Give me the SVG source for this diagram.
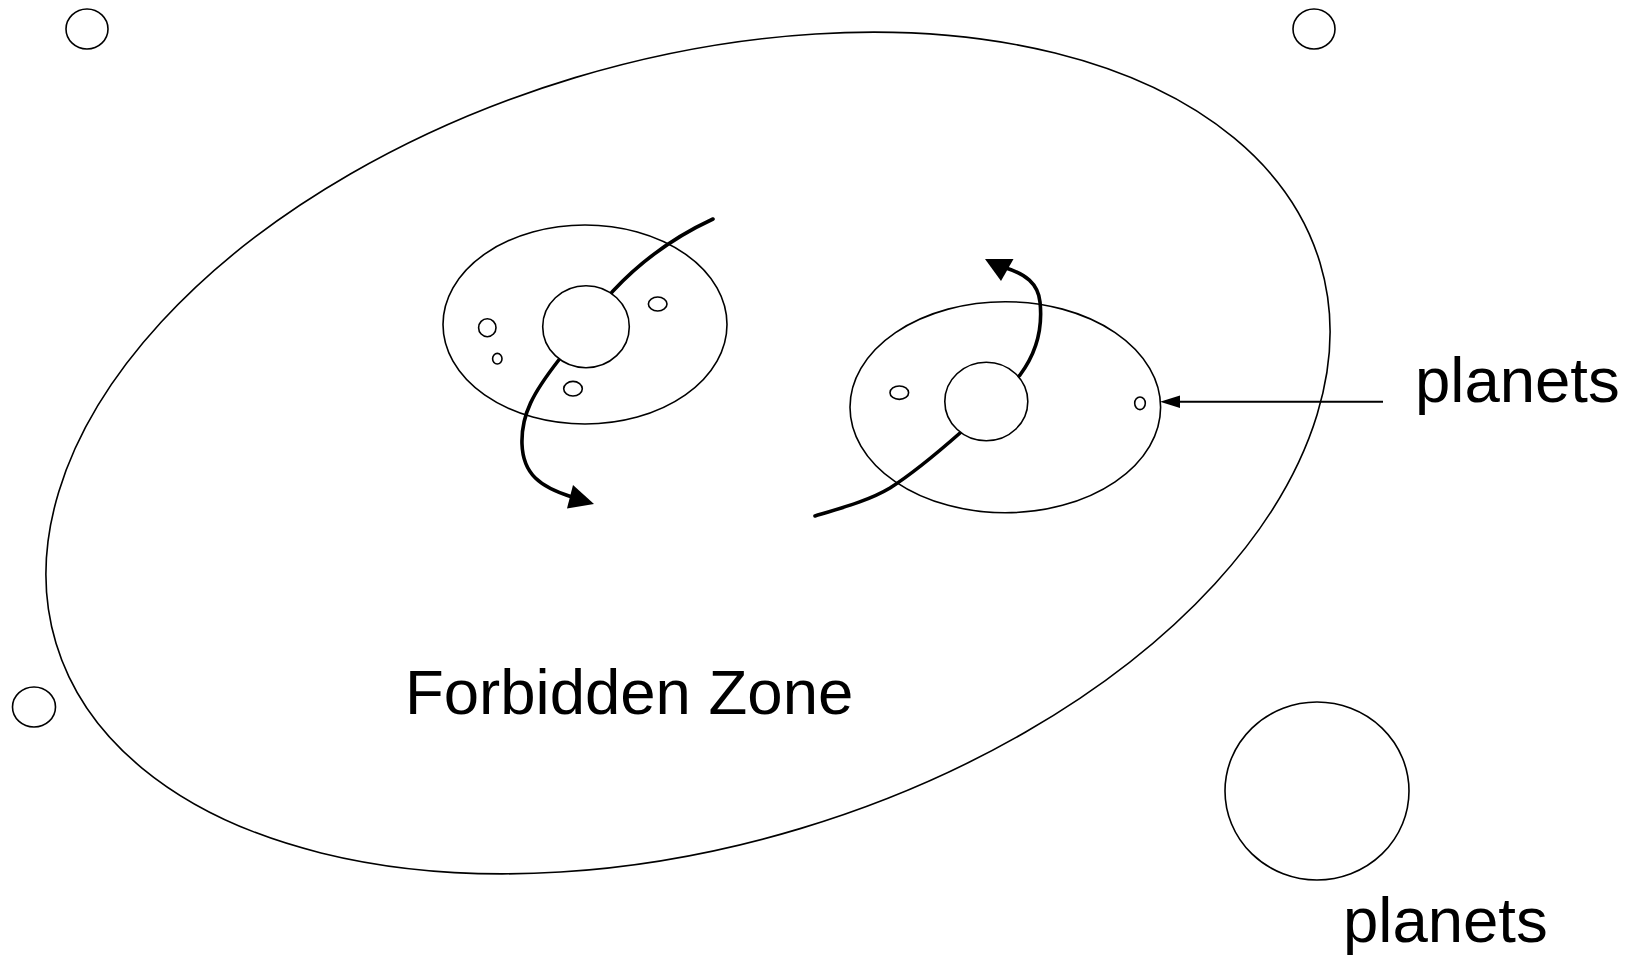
<svg xmlns="http://www.w3.org/2000/svg" width="1642" height="963" viewBox="0 0 1642 963">
<style>
.thin{fill:none;stroke:#000;stroke-width:1.6}
.body{fill:#fff;stroke:#000;stroke-width:1.6}
.trail{fill:none;stroke:#000;stroke-width:3.6;stroke-linecap:round}
.head{fill:#000;stroke:none}
.lbl{font-family:"Liberation Sans",Arial,Helvetica,sans-serif;font-size:63.5px;fill:#000}
</style>
<rect width="1642" height="963" fill="#fff"/>
<g id="forbidden-zone">
<ellipse class="thin" cx="688" cy="453" rx="660" ry="392" transform="rotate(-16.75 688 453)"/>
</g>
<g id="outer-planets">
<ellipse class="thin" cx="87" cy="29" rx="21" ry="20"/>
<ellipse class="thin" cx="1314" cy="29" rx="21" ry="20"/>
<ellipse class="thin" cx="34" cy="707" rx="21.5" ry="20"/>
<ellipse class="thin" cx="1317" cy="791" rx="92" ry="89"/>
</g>
<g id="system-left-orbit">
<ellipse class="thin" cx="585" cy="324.5" rx="142" ry="99.5"/>
</g>
<g id="system-right-orbit">
<ellipse class="thin" cx="1005.3" cy="407.2" rx="155.3" ry="105.5"/>
</g>
<g id="connectors">
<path class="trail" d="M713,219 C672,238 640,262 613,291 L558,361 C534,392 521,414 522,444 C523,474 540,487 572,497"/>
<polygon class="head" points="567,508.5 573,485 594,504"/>
<path class="trail" d="M815,516 C845,507 870,500 890,488 C915,472 935,455 960,433 L1020,375 C1035,355 1043,330 1040,302 C1038,283 1025,274 1006,268"/>
<polygon class="head" points="985,259 1013.5,259 1001,281"/>
<line x1="1383" y1="401.7" x2="1176" y2="401.7" stroke="#000" stroke-width="2"/>
<polygon class="head" points="1160,401.7 1180,395.5 1180,408"/>
</g>
<g id="system-left">
<ellipse class="body" cx="586" cy="326.7" rx="43.3" ry="41"/>
<ellipse class="thin" cx="487.3" cy="327.7" rx="8.7" ry="9"/>
<ellipse class="thin" cx="497.3" cy="358.7" rx="4.7" ry="5.3"/>
<ellipse class="thin" cx="657.7" cy="304" rx="9.3" ry="7"/>
<ellipse class="thin" cx="573" cy="388.7" rx="9.3" ry="7.3"/>
</g>
<g id="system-right">
<ellipse class="body" cx="986.3" cy="401.5" rx="41.5" ry="39.3"/>
<ellipse class="thin" cx="899.3" cy="392.7" rx="9.3" ry="6.7"/>
<ellipse class="thin" cx="1140" cy="403.3" rx="5.3" ry="6.3"/>
</g>
<g id="labels">
<text class="lbl" x="405" y="714">Forbidden Zone</text>
<text class="lbl" x="1415" y="402">planets</text>
<text class="lbl" x="1343" y="942">planets</text>
</g>
</svg>
